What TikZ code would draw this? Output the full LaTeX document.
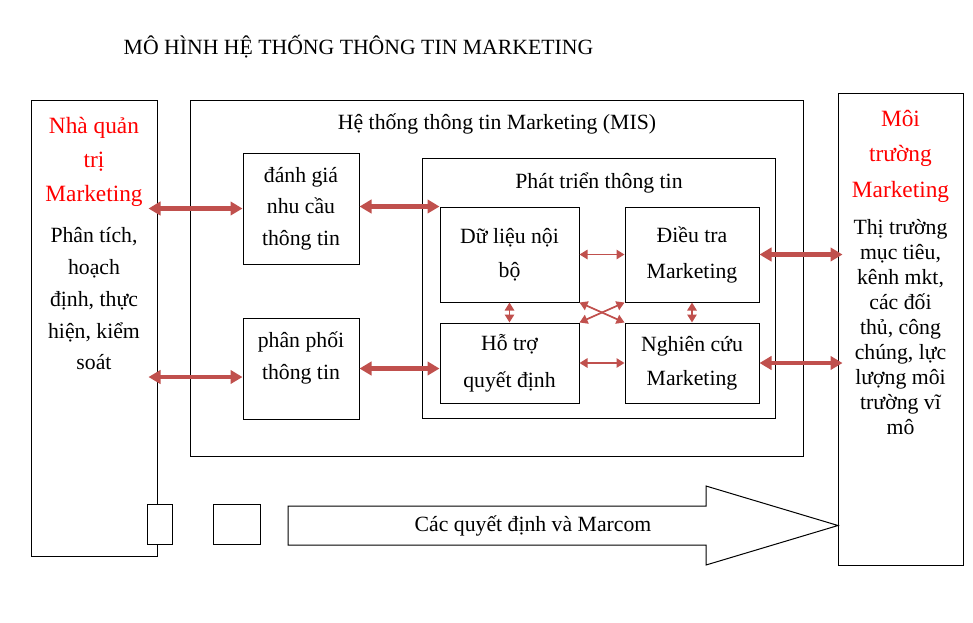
\documentclass[tikz,border=0pt]{standalone}
\usepackage{fontspec}
\setmainfont{Liberation Serif}
\usetikzlibrary{arrows.meta,positioning,calc}
\definecolor{arrowred}{HTML}{C0504D}
\newcommand{\fs}[1]{\fontsize{16.3pt}{#1}\selectfont}
\newcommand{\hfs}[1]{\fontsize{17.5pt}{#1}\selectfont}

\begin{document}
\begin{tikzpicture}[x=0.75pt,y=-0.75pt,
  box/.style={draw,line width=0.75pt,inner sep=0pt,align=center,font=\fs{25.5pt}},
  wh/.style 2 args={minimum width=#1*0.75pt,minimum height=#2*0.75pt},
  txt/.style={inner sep=0pt,align=center,font=\fs{23.6pt}},
  head/.style={inner sep=0pt,align=center,text=red},
  bigarrow/.style={{Triangle[length=9pt,width=10pt]}-{Triangle[length=9pt,width=10pt]},draw=arrowred,line width=3.4pt},
  smallarrow/.style={{Triangle[length=6pt,width=7pt]}-{Triangle[length=6pt,width=7pt]},draw=arrowred,line width=1.3pt}]
  \useasboundingbox (0,0) rectangle (973,622);
  \node[txt] (title) at (358.5,47) {MÔ HÌNH HỆ THỐNG THÔNG TIN MARKETING};

  % left and right columns
  \node[box,wh={126}{456}] (lbox) at (94,328) {};
  \node[head,font=\hfs{25.5pt}] (lhead) at (94,162) {Nhà quản\\trị\\Marketing};
  \node[txt,font=\fs{23.8pt}] (ltxt) at (94,299) {Phân tích,\\hoạch\\định, thực\\hiện, kiểm\\soát};
  \node[box,wh={125}{472}] (rbox) at (900.5,329) {};
  \node[head,font=\hfs{26.6pt}] (rhead) at (900.5,156) {Môi\\trường\\Marketing};
  \node[txt,font=\fs{18.75pt}] (rtxt) at (900.5,327) {Thị trường\\mục tiêu,\\kênh mkt,\\các đối\\thủ, công\\chúng, lực\\lượng môi\\trường vĩ\\mô};

  % MIS
  \node[box,wh={613}{356}] (mis) at (496.5,278) {};
  \node[txt] (mistitle) at (497,124) {Hệ thống thông tin Marketing (MIS)};
  \node[box,wh={116}{111},font=\fs{23.6pt}] (dgia) at (301,208.5) {đánh giá\\nhu cầu\\thông tin};
  \node[box,wh={116}{101}] (ppoi) at (301,368.5) {};
  \node[txt,font=\fs{24pt}] (ppoitxt) at (301,358) {phân phối\\thông tin};
  \node[box,wh={353}{260}] (ptrien) at (598.5,288) {};
  \node[txt] (ptrientitle) at (599,183) {Phát triển thông tin};
  \node[box,wh={139}{95}] (dlieu) at (509.5,254.5) {Dữ liệu nội\\bộ};
  \node[box,wh={134}{95},font=\fs{27pt}] (dtra) at (692,254.5) {Điều tra\\Marketing};
  \node[box,wh={139}{80},font=\fs{27.7pt}] (hotro) at (509.5,363) {Hỗ trợ\\quyết định};
  \node[box,wh={134}{80}] (ncuu) at (692,363) {Nghiên cứu\\Marketing};

  % bottom
  \node[box,fill=white,wh={25}{40}] (sqa) at (159.5,524) {};
  \node[box,wh={47}{40}] (sqb) at (236.5,524) {};
  \draw[line width=0.75pt] (288,506) -- (706,506) -- (706,486) -- (838,525.5)
    -- (706,565) -- (706,545) -- (288,545) -- cycle;
  \node[txt] (marcom) at (533,526) {Các quyết định và Marcom};

  % arrows
  \draw[bigarrow] ($(lbox.east |- dgia.west)+(-9,0)$) -- (dgia.west);
  \draw[bigarrow] ($(lbox.east |- ppoi.west)+(-9,8.5)$) -- ($(ppoi.west)+(0,8.5)$);
  \draw[bigarrow] (dgia.east |- dlieu.north west) -- (dlieu.north west);
  \draw[bigarrow] (ppoi.east) -- (hotro.west |- ppoi.east);
  \draw[bigarrow] (dtra.east) -- ($(rbox.west |- dtra.east)+(5,0)$);
  \draw[bigarrow] (ncuu.east) -- ($(rbox.west |- ncuu.east)+(5,0)$);
  \draw[smallarrow] (dlieu) -- (dtra);
  \draw[smallarrow] (hotro) -- (ncuu);
  \draw[smallarrow] (dlieu) -- (hotro);
  \draw[smallarrow] (dtra) -- (ncuu);
  \draw[smallarrow] (dlieu.south east) -- (ncuu.north west);
  \draw[smallarrow] (hotro.north east) -- (dtra.south west);
\end{tikzpicture}
\end{document}
